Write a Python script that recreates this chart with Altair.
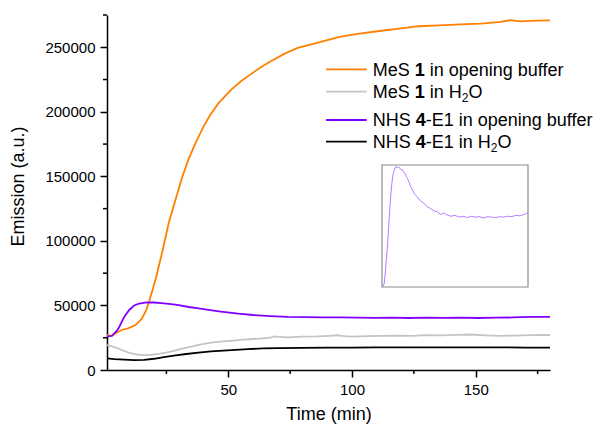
import altair as alt
import pandas as pd

FONT = "Liberation Sans, Arial, sans-serif"

# ---------------- data ----------------
t_orange = [1, 3, 5, 7, 9.5, 12.5, 15, 17, 18, 20, 21, 22, 23.5, 26, 29, 31.5, 34, 37, 40, 42.5,
            46, 51, 55, 59, 63, 67, 73, 78, 84, 90, 95, 103, 111, 119, 127, 135, 144, 152, 160,
            164, 168, 174, 180]
v_orange = [27000, 26500, 29000, 31000, 32300, 34800, 39500, 47000, 52900, 66000,
            73000, 81000, 92900, 114500, 134100, 150000, 163500, 176700, 188500, 197000,
            206500, 216800, 223500, 229000, 234300, 239000, 245300, 249500, 252500, 255500,
            258000, 260600, 262600, 264500, 266300, 267000, 267800, 268300, 269600,
            271000, 270100, 270600, 270900]

t_gray = [1, 4, 7, 10, 13, 16, 19, 22, 25, 28, 31, 35, 40, 44, 48, 52, 56, 60, 64, 67,
          68.5, 70, 74, 80, 86, 91, 94, 97, 100, 106, 112, 118, 124, 130, 136, 142, 148, 154, 160, 166,
          172, 178, 180]
v_gray = [19300, 17800, 15500, 13300, 12000, 11600, 11800, 12500, 13500, 14900,
          16400, 18200, 20300, 21400, 22200, 22800, 23600, 24000, 24500, 25000,
          26000, 25600, 25300, 25800, 26000, 26500, 26900, 26200, 25800, 26200,
          26500, 26600, 26400, 27000, 26800, 27200, 27500, 26900, 26400, 26700,
          27000, 27100, 27100]

t_purple = [1, 3, 5, 6, 8, 10, 12, 14, 17, 20, 23, 27, 30, 34, 38, 42, 47, 54, 60, 67,
            74, 81, 88, 95, 102, 109, 116, 123, 130, 137, 144, 151, 158, 165, 172, 180]
v_purple = [25800, 26500, 30500, 33500, 41300, 46500, 50000, 51500, 52400, 52300,
            51800, 51000, 50300, 48800, 47700, 46600, 45300, 43700, 42600, 41800,
            41200, 40900, 40700, 40800, 40500, 40400, 40600, 40300, 40500, 40400,
            40600, 40300, 40500, 40700, 41100, 41200]

t_black = [1, 4, 8, 12, 16, 20, 24, 28, 33, 38, 43, 48, 53, 58, 64, 70, 80, 90, 100, 110,
           120, 130, 140, 150, 160, 170, 180]
v_black = [9000, 8400, 8000, 7700, 7900, 8700, 10000, 11200, 12400, 13500, 14400, 15000,
           15600, 16200, 16700, 17000, 17200, 17300, 17400, 17500, 17600, 17500, 17600,
           17600, 17500, 17400, 17300]

# inset (NHS 4-E1 in opening buffer, own scale, noisy trace)
t_inset = [1, 2.6, 4, 5.5, 6.8, 8, 9.5, 10.8, 12, 13.5, 14.9, 17, 19, 21, 23, 25.2, 28, 31.3, 35,
           39.4, 43, 47, 51.6, 56, 60, 64, 68, 72, 76, 80, 85, 90, 95, 100, 105, 110, 115, 120,
           125, 130, 135, 140, 145, 150, 155, 160, 165, 170, 175, 178.4, 180]
v_inset = [25500, 26200, 29000, 32300, 35200, 39000, 43200, 46500, 48900, 50800, 51700, 52500,
           52300, 52300, 51800, 51700, 50900, 49800, 48100, 46500, 45700, 44800, 44200, 43400,
           43000, 42500, 42300, 41700, 42000, 41600, 41300, 41500, 41100, 41300, 41000, 41300,
           41100, 41200, 40900, 41200, 41100, 41000, 41200, 41100, 41300, 41200, 41500, 41400,
           41700, 42000, 41800]

series_names = ["MeS 1 in opening buffer", "MeS 1 in H2O",
                "NHS 4-E1 in opening buffer", "NHS 4-E1 in H2O"]
series_colors = ["#ff8000", "#c4c4c4", "#8000ff", "#000000"]

y_major = [0, 50000, 100000, 150000, 200000, 250000]
y_minor = [25000, 75000, 125000, 175000, 225000, 275000]
x_major = [50, 100, 150]
x_minor = [25, 75, 125, 175]

# ---------------- build ----------------
W, H = 443, 355
rows = []
for name, ts, vs in zip(series_names,
                        [t_orange, t_gray, t_purple, t_black],
                        [v_orange, v_gray, v_purple, v_black]):
    for t, v in zip(ts, vs):
        rows.append({"series": name, "t": t, "v": v})
df = pd.DataFrame(rows)

xscale = alt.Scale(domain=[1, 180], nice=False, zero=False)
yscale = alt.Scale(domain=[0, 275000], nice=False, zero=True)

lines = alt.Chart(df).mark_line(strokeWidth=1.8).encode(
    x=alt.X("t:Q", scale=xscale,
            axis=alt.Axis(title="Time (min)", values=x_major, format="d",
                          titlePadding=8, labelPadding=5)),
    y=alt.Y("v:Q", scale=yscale,
            axis=alt.Axis(title="Emission (a.u.)", values=y_major, format="d",
                          titlePadding=17, labelPadding=5, titleY=171)),
    color=alt.Color("series:N", scale=alt.Scale(domain=series_names, range=series_colors),
                    legend=None),
    detail="series:N",
)

minor_y = alt.Chart(pd.DataFrame({"v": y_minor})).mark_rule(
    color="black", strokeWidth=1.5).encode(
    y=alt.Y("v:Q", scale=yscale), x=alt.value(-4), x2=alt.value(0))
minor_x = alt.Chart(pd.DataFrame({"t": x_minor})).mark_rule(
    color="black", strokeWidth=1.5).encode(
    x=alt.X("t:Q", scale=xscale), y=alt.value(H), y2=alt.value(H + 4))

dummy = pd.DataFrame({"a": [0]})


def seg_text(x, y, txt, bold=False, size=18):
    return alt.Chart(dummy).mark_text(
        text=txt, align="left", baseline="alphabetic", font=FONT, fontSize=size,
        fontWeight="bold" if bold else "normal", color="black"
    ).encode(x=alt.value(x), y=alt.value(y))


def seg_line(y, color):
    return alt.Chart(dummy).mark_rule(color=color, strokeWidth=1.8).encode(
        x=alt.value(219), x2=alt.value(259.7), y=alt.value(y))


tx = 265.7
sp = 5  # width of a space at 18px
legend_layers = [
    seg_line(54.3, series_colors[0]),
    seg_text(tx, 61, "MeS"), seg_text(tx + 42, 61, "1", True),
    seg_text(tx + 52 + sp, 61, "in opening buffer"),
    seg_line(76.7, series_colors[1]),
    seg_text(tx, 83.3, "MeS"), seg_text(tx + 42, 83.3, "1", True),
    seg_text(tx + 52 + sp, 83.3, "in H"),
    seg_text(tx + 89, 87.3, "2", size=12), seg_text(tx + 95.7, 83.3, "O"),
    seg_line(105, series_colors[2]),
    seg_text(tx, 111, "NHS"), seg_text(tx + 43, 111, "4", True),
    seg_text(tx + 53, 111, "-E1 in opening buffer"),
    seg_line(126.7, series_colors[3]),
    seg_text(tx, 133.3, "NHS"), seg_text(tx + 43, 133.3, "4", True),
    seg_text(tx + 53, 133.3, "-E1 in H"),
    seg_text(tx + 118, 137.3, "2", size=12), seg_text(tx + 124.7, 133.3, "O"),
]

main = alt.layer(lines, minor_y, minor_x, *legend_layers)

inset_box = alt.Chart(dummy).mark_rect(fill="white", fillOpacity=0, stroke="#8c8c8c",
                                       strokeWidth=1.2).encode(
    x=alt.value(275), x2=alt.value(421), y=alt.value(150), y2=alt.value(272))

inset_line = alt.Chart(pd.DataFrame({"t": t_inset, "v": v_inset})).mark_line(
    color="#b57cff", strokeWidth=1).encode(
    x=alt.X("t:Q", scale=alt.Scale(domain=[1, 180], range=[276, 421], nice=False, zero=False),
            axis=None),
    y=alt.Y("v:Q", scale=alt.Scale(domain=[25350, 52850], range=[272, 150], nice=False,
                                   zero=False), axis=None),
)

chart = alt.layer(main, inset_box, inset_line).resolve_scale(
    x="independent", y="independent"
).properties(
    width=W, height=H, autosize="none",
    padding={"left": 107, "top": 15, "right": 51, "bottom": 55},
    background="white",
).configure_view(stroke=None).configure_axis(
    grid=False, domainColor="black", domainWidth=1.5, tickColor="black", tickWidth=1.5,
    tickSize=7, labelFont=FONT, labelFontSize=15, labelColor="black",
    titleFont=FONT, titleFontSize=18, titleFontWeight="normal", titleColor="black",
)

chart.save("out.html", embed_options={"renderer": "svg", "actions": False})
